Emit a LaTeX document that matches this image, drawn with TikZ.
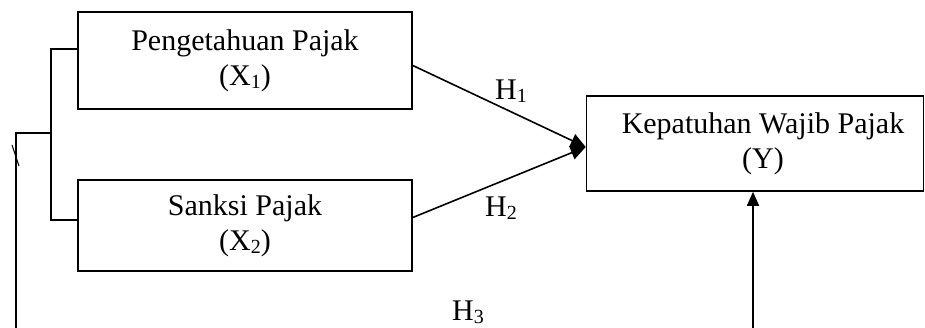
\documentclass[tikz,border=0pt]{standalone}
\usepackage{fontspec}
\setmainfont{Liberation Serif}
\usetikzlibrary{arrows.meta}
\newcommand{\sbs}[1]{\raisebox{-0.25ex}{\fontsize{20}{20}\selectfont #1}}
\newcommand{\ypad}{\hspace*{16pt}}
\tikzset{
  varbox/.style={draw, line width=1.6pt, minimum width=334pt, align=center, inner sep=0pt,
    font=\fontsize{30}{35}\selectfont},
  conn/.style={line width=1.6pt},
  arr/.style={conn, -{Triangle[length=15pt,width=14pt]}},
  hlab/.style={font=\fontsize{30}{30}\selectfont, inner sep=0pt}
}
\begin{document}
\begin{tikzpicture}[x=1pt,y=-1pt]
\useasboundingbox (0,0) rectangle (925,328);
\node[varbox, minimum height=97pt] (x1) at (245,60.5) {Pengetahuan Pajak\\(X\sbs{1})};
\node[varbox, minimum height=91pt] (x2) at (245,225.5) {Sanksi Pajak\\(X\sbs{2})};
\node[varbox, minimum width=337pt, minimum height=95pt] (y) at (755,143.5) {\ypad Kepatuhan Wajib Pajak\\\ypad(Y)};
\coordinate (s1) at ([yshift=-5pt]x1.east);
\coordinate (s2) at ([yshift=8pt]x2.east);
\coordinate (tip) at ([yshift=-3.5pt]y.west);
\draw[arr] (s1) -- (tip);
\draw[arr] (s2) -- (tip);
\node[hlab] (h1) at (511,91) {H\sbs{1}};
\node[hlab] (h2) at (501,208) {H\sbs{2}};
\node[hlab] (h3) at (468,312) {H\sbs{3}};
% bracket
\coordinate (b1) at (51,49);
\coordinate (b2) at (51,220);
\coordinate (bj) at (51,133);
\coordinate (lj) at (16,133);
\coordinate (lb) at (16,328);
\draw[conn] (x1.west |- b1) -- (b1) -- (b2) -- (x2.west |- b2);
\draw[conn] (bj) -- (lj) -- (lb);
\coordinate (sl1) at (12,145);
\coordinate (sl2) at (19,166);
\draw[line width=1pt] (sl1) -- (sl2);
\coordinate (rb) at (753,328);
\draw[arr, -{Triangle[length=14pt,width=12pt]}] (rb) -- (rb |- y.south);
\end{tikzpicture}
\end{document}
